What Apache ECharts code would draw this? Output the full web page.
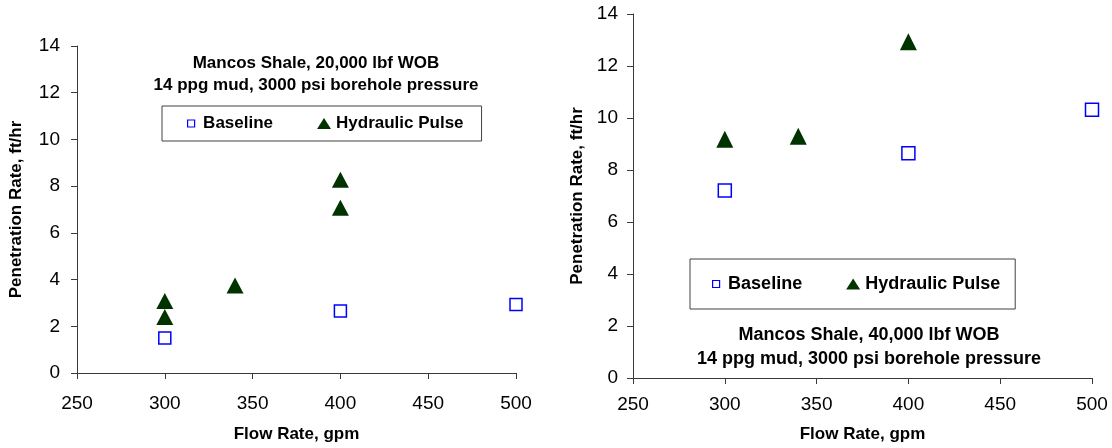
<!DOCTYPE html>
<html>
<head>
<meta charset="utf-8">
<script src="https://cdn.jsdelivr.net/npm/echarts@6/dist/echarts.min.js"></script>
<style>
  html, body { margin: 0; padding: 0; background: #fff; }
  #chart { width: 1112px; height: 448px; }
</style>
</head>
<body>
<div id="chart"></div>
<script>
// Mancos Shale, 20,000 lbf WOB
const flow20kBaseline = [300, 400, 500];
const rop20kBaseline = [1.5, 2.65, 2.93];
const flow20kPulse = [300, 300, 340, 400, 400];
const rop20kPulse = [3.08, 2.4, 3.75, 8.27, 7.08];

// Mancos Shale, 40,000 lbf WOB
const flow40kBaseline = [300, 400, 500];
const rop40kBaseline = [7.21, 8.64, 10.32];
const flow40kPulse = [300, 340, 400];
const rop40kPulse = [9.18, 9.3, 12.93];

const xTicks = { min: 250, max: 500, interval: 50 };
const yTicks = { min: 0, max: 14, interval: 2 };

const title20k = 'Mancos Shale, 20,000 lbf WOB\n14 ppg mud, 3000 psi borehole pressure';
const title40k = 'Mancos Shale, 40,000 lbf WOB\n14 ppg mud, 3000 psi borehole pressure';
const seriesNames = ['Baseline', 'Hydraulic Pulse'];

const FONT = "'Liberation Sans', Arial, sans-serif";
const BLUE = '#0000ff';
const GREEN = '#003300';
const AXIS = '#3a3a3a';

const zip = (xs, ys) => xs.map((x, i) => [x, ys[i]]);

// legend icons: transparent 14x14 frame so the marker keeps its own size
const squareIcon = 'path://M0,0M14,14M3.5,3.5L10.5,3.5L10.5,10.5L3.5,10.5Z';
const triangleIcon = 'path://M0,0M14,14M0,12.5L7,1.5L14,12.5Z';

function makeXAxis(gridIndex, fontSize, labelMargin, nameGap) {
  return {
    gridIndex, type: 'value', ...xTicks,
    name: 'Flow Rate, gpm', nameLocation: 'middle', nameGap,
    nameTextStyle: { fontFamily: FONT, fontSize: 17, fontWeight: 'bold', color: '#000' },
    axisLine: { show: true, onZero: false, lineStyle: { color: AXIS, width: 1 } },
    axisTick: { show: true, length: 6, lineStyle: { color: AXIS } },
    axisLabel: { fontFamily: FONT, fontSize, color: '#000', margin: labelMargin },
    splitLine: { show: false }
  };
}

function makeYAxis(gridIndex, fontSize, labelMargin, nameGap) {
  return {
    gridIndex, type: 'value', ...yTicks,
    name: 'Penetration Rate, ft/hr', nameLocation: 'middle', nameGap, nameRotate: 90,
    nameTextStyle: { fontFamily: FONT, fontSize: 17, fontWeight: 'bold', color: '#000' },
    axisLine: { show: true, onZero: false, lineStyle: { color: AXIS, width: 1 } },
    axisTick: { show: true, length: 6, lineStyle: { color: AXIS } },
    axisLabel: { fontFamily: FONT, fontSize, color: '#000', margin: labelMargin },
    splitLine: { show: false }
  };
}

function legendData(strokeW) {
  return [
    { name: seriesNames[0], icon: squareIcon,
      itemStyle: { color: '#fff', borderColor: BLUE, borderWidth: strokeW, opacity: 1 } },
    { name: seriesNames[1], icon: triangleIcon,
      itemStyle: { color: GREEN, borderWidth: 0, opacity: 1 } }
  ];
}

function baselineSeries(idx, data, size) {
  return {
    name: seriesNames[0], type: 'scatter', xAxisIndex: idx, yAxisIndex: idx,
    data, symbol: 'rect', symbolSize: size,
    itemStyle: { color: '#fff', borderColor: BLUE, borderWidth: 1.5, opacity: 1 },
    emphasis: { disabled: true }
  };
}

function pulseSeries(idx, data, size) {
  return {
    name: seriesNames[1], type: 'scatter', xAxisIndex: idx, yAxisIndex: idx,
    data, symbol: 'triangle', symbolSize: size,
    itemStyle: { color: GREEN, opacity: 1 },
    emphasis: { disabled: true }
  };
}

const chart = echarts.init(document.getElementById('chart'), null, { renderer: 'canvas' });

chart.setOption({
  animation: false,
  backgroundColor: '#fff',
  textStyle: { fontFamily: FONT },
  title: [
    { text: title20k, left: 316, top: 52, textAlign: 'center', padding: 0,
      textStyle: { fontFamily: FONT, fontSize: 17, fontWeight: 'bold', color: '#000', lineHeight: 22 } },
    { text: title40k, left: 869, top: 323, textAlign: 'center', padding: 0,
      textStyle: { fontFamily: FONT, fontSize: 18, fontWeight: 'bold', color: '#000', lineHeight: 24 } }
  ],
  legend: [
    { left: 162, top: 106, orient: 'horizontal', padding: [9, 18, 9, 21.5],
      itemGap: 44, itemWidth: 14, itemHeight: 14, selectedMode: false,
      borderColor: '#404040', borderWidth: 1,
      textStyle: { fontFamily: FONT, fontSize: 17, fontWeight: 'bold', color: '#000' },
      data: legendData(1.2) },
    { left: 690, top: 259, orient: 'horizontal', padding: [16, 15, 16, 18.5],
      itemGap: 44, itemWidth: 14, itemHeight: 14, selectedMode: false,
      borderColor: '#404040', borderWidth: 1,
      textStyle: { fontFamily: FONT, fontSize: 18, fontWeight: 'bold', color: '#000' },
      data: legendData(1.2) }
  ],
  grid: [
    { left: 77, top: 46, width: 439, height: 330, containLabel: false },
    { left: 633, top: 14, width: 459, height: 366, containLabel: false }
  ],
  xAxis: [
    makeXAxis(0, 19, 21, 53),
    makeXAxis(1, 19, 17, 48)
  ],
  yAxis: [
    makeYAxis(0, 19, 17, 52),
    makeYAxis(1, 19, 15, 47)
  ],
  series: [
    baselineSeries(0, zip(flow20kBaseline, rop20kBaseline), 12),
    pulseSeries(0, zip(flow20kPulse, rop20kPulse), [17, 16]),
    baselineSeries(1, zip(flow40kBaseline, rop40kBaseline), 13),
    pulseSeries(1, zip(flow40kPulse, rop40kPulse), [17, 17])
  ]
});
</script>
</body>
</html>
